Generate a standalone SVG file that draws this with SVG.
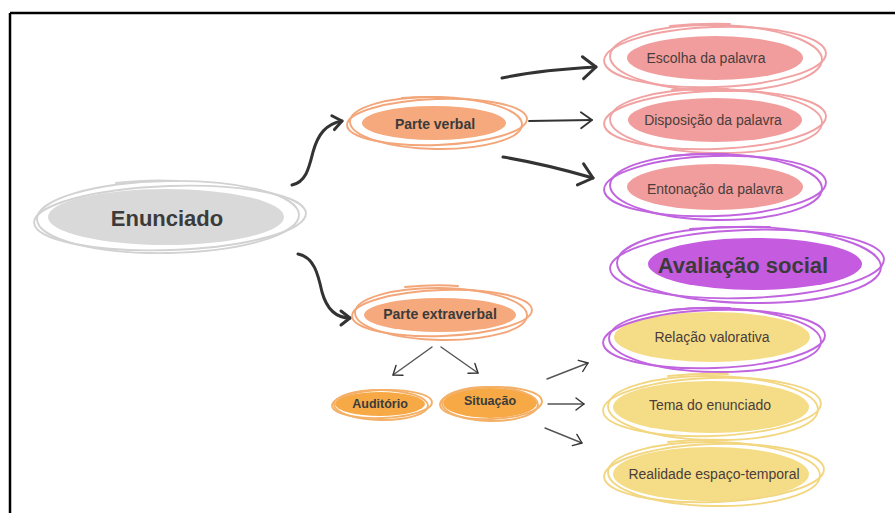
<svg xmlns="http://www.w3.org/2000/svg" width="895" height="513" viewBox="0 0 895 513">
<defs>
<style>
text{font-family:"Liberation Sans",Arial,sans-serif;text-anchor:middle}
.b{font-weight:bold;fill:#3b3b3b}
.r{font-size:14px;fill:#4a3d3b}
.lp{fill:none;stroke-width:1.9;stroke-linecap:round}
.gray{fill:#d9d9d9}.grayL{stroke:#d2d2d2}
.peach{fill:#f5a97c}.peachL{stroke:#f3a679}
.pink{fill:#f29d9d}.pinkL{stroke:#f1a2a2}
.purp{fill:#c55ce0}.purpL{stroke:#c164df}
.yel{fill:#f5dc86}.yelL{stroke:#f2d680}
.org{fill:#f6a945}.orgL{stroke:#f4b067}
.ah{fill:none;stroke:#333;stroke-linecap:round;stroke-linejoin:round}
.cb{fill:none;stroke:#333;stroke-width:3;stroke-linecap:round}
.cm{fill:none;stroke:#333;stroke-width:1.8;stroke-linecap:round}
.ct{fill:none;stroke:#555;stroke-width:1.4;stroke-linecap:round}
</style>
<marker id="aBig" markerUnits="userSpaceOnUse" markerWidth="30" markerHeight="30" refX="0" refY="0" orient="auto" overflow="visible"><path class="ah" stroke-width="3" d="M-13,-11 L0,0 L-13,11"/></marker>
<marker id="aMid" markerUnits="userSpaceOnUse" markerWidth="30" markerHeight="30" refX="0" refY="0" orient="auto" overflow="visible"><path class="ah" stroke-width="1.8" d="M-11,-8 L0,0 L-11,8"/></marker>
<marker id="aCur" markerUnits="userSpaceOnUse" markerWidth="30" markerHeight="30" refX="0" refY="0" orient="auto" overflow="visible"><path class="ah" stroke-width="3" d="M-9,-7 L0,0 L-9,7"/></marker>
<marker id="aSm" markerUnits="userSpaceOnUse" markerWidth="30" markerHeight="30" refX="0" refY="0" orient="auto" overflow="visible"><path class="ah" stroke="#555" stroke-width="1.4" d="M-8,-6 L0,0 L-8,6"/></marker>
</defs>
<rect width="895" height="513" fill="#ffffff"/>
<path d="M10,13 L895,13 M10,13 L10,513" fill="none" stroke="#000" stroke-width="2.5"/>

<g id="connectors">
<path class="cb" d="M292,185 C306,182 309,168 313,152 C318,134 326,124 342,121" marker-end="url(#aCur)"/>
<path class="cb" d="M298,254 C314,257 318,274 322,292 C327,310 336,318 350,318" marker-end="url(#aCur)"/>
<path class="cb" d="M502,78 Q540,70 596,67" marker-end="url(#aBig)"/>
<path class="cm" d="M529,121 L592,120" marker-end="url(#aMid)"/>
<path class="cb" d="M503,157 Q545,164 593,178" marker-end="url(#aBig)"/>
<path class="ct" d="M432,347 L393,375" marker-end="url(#aSm)"/>
<path class="ct" d="M441,347 L478,373" marker-end="url(#aSm)"/>
<path class="ct" d="M547,379 L588,363" marker-end="url(#aSm)"/>
<path class="ct" d="M548,404 L584,404" marker-end="url(#aSm)"/>
<path class="ct" d="M545,428 L582,443" marker-end="url(#aSm)"/>
</g>

<g id="n-enunciado">
<ellipse class="gray" cx="166" cy="217" rx="118" ry="28"/>
<ellipse class="lp grayL" cx="170" cy="218" rx="136" ry="32" transform="rotate(-2 170 218)"/>
<ellipse class="lp grayL" cx="168" cy="217" rx="131" ry="36" transform="rotate(-1 168 217)"/>
<path class="lp grayL" d="M116,183 Q150,179 178,181"/>
<text class="b" x="167" y="226" font-size="22">Enunciado</text>
</g>

<g id="n-parte-verbal">
<ellipse class="peach" cx="434" cy="123" rx="72" ry="17"/>
<ellipse class="lp peachL" cx="437" cy="122" rx="90" ry="23" transform="rotate(-2 437 122)"/>
<ellipse class="lp peachL" cx="436" cy="123" rx="86" ry="26" transform="rotate(1 436 123)"/>
<path class="lp peachL" d="M402,98 Q430,96 450,98"/>
<text class="b" x="435" y="129" font-size="14">Parte verbal</text>
</g>

<g id="n-escolha">
<ellipse class="pink" cx="715" cy="58" rx="88" ry="22"/>
<ellipse class="lp pinkL" cx="715" cy="57" rx="111" ry="30" transform="rotate(-2 715 57)"/>
<ellipse class="lp pinkL" cx="716" cy="58" rx="106" ry="33" transform="rotate(1 716 58)"/>
<path class="lp pinkL" d="M670,26 Q700,23 730,24"/>
<text class="r" x="706" y="63">Escolha da palavra</text>
</g>

<g id="n-disposicao">
<ellipse class="pink" cx="715" cy="120" rx="87" ry="22"/>
<ellipse class="lp pinkL" cx="715" cy="120" rx="111" ry="29" transform="rotate(-2 715 120)"/>
<ellipse class="lp pinkL" cx="716" cy="121" rx="106" ry="32" transform="rotate(1 716 121)"/>
<path class="lp pinkL" d="M672,90 Q700,88 728,89"/>
<text class="r" x="713" y="125">Disposição da palavra</text>
</g>

<g id="n-entonacao">
<ellipse class="pink" cx="715" cy="187" rx="88" ry="23"/>
<ellipse class="lp purpL" cx="715" cy="186" rx="111" ry="30" transform="rotate(-2 715 186)"/>
<ellipse class="lp purpL" cx="716" cy="187" rx="106" ry="33" transform="rotate(1 716 187)"/>
<path class="lp purpL" d="M670,156 Q700,153 728,154"/>
<text class="r" x="715" y="194">Entonação da palavra</text>
</g>

<g id="n-avaliacao">
<ellipse class="purp" cx="755" cy="264" rx="107" ry="26"/>
<ellipse class="lp purpL" cx="747" cy="264" rx="137" ry="34" transform="rotate(-2 747 264)"/>
<ellipse class="lp purpL" cx="749" cy="265" rx="132" ry="38" transform="rotate(1 749 265)"/>
<path class="lp purpL" d="M690,229 Q730,226 770,227"/>
<text class="b" x="743" y="273" font-size="22" fill="#3a2b40">Avaliação social</text>
</g>

<g id="n-relacao">
<ellipse class="yel" cx="712" cy="337" rx="98" ry="25"/>
<ellipse class="lp purpL" cx="714" cy="339" rx="111" ry="29" transform="rotate(-2 714 339)"/>
<ellipse class="lp purpL" cx="715" cy="340" rx="106" ry="32" transform="rotate(1 715 340)"/>
<path class="lp purpL" d="M670,310 Q700,307 730,308"/>
<text class="r" x="712" y="342">Relação valorativa</text>
</g>

<g id="n-tema">
<ellipse class="yel" cx="711" cy="407" rx="98" ry="26"/>
<ellipse class="lp yelL" cx="712" cy="407" rx="109" ry="29" transform="rotate(-2 712 407)"/>
<ellipse class="lp yelL" cx="713" cy="408" rx="105" ry="32" transform="rotate(1 713 408)"/>
<path class="lp yelL" d="M668,376 Q700,373 728,374"/>
<text class="r" x="710" y="410">Tema do enunciado</text>
</g>

<g id="n-realidade">
<ellipse class="yel" cx="711" cy="474" rx="98" ry="27"/>
<ellipse class="lp yelL" cx="714" cy="473" rx="110" ry="29" transform="rotate(-2 714 473)"/>
<ellipse class="lp yelL" cx="714" cy="474" rx="106" ry="32" transform="rotate(1 714 474)"/>
<path class="lp yelL" d="M668,442 Q700,439 728,440"/>
<text class="r" x="714" y="479">Realidade espaço-temporal</text>
</g>

<g id="n-parte-extraverbal">
<ellipse class="peach" cx="440" cy="315" rx="76" ry="17"/>
<ellipse class="lp peachL" cx="442" cy="313" rx="90" ry="23" transform="rotate(-2 442 313)"/>
<ellipse class="lp peachL" cx="441" cy="314" rx="86" ry="26" transform="rotate(1 441 314)"/>
<path class="lp peachL" d="M405,287 Q435,284 458,286"/>
<text class="b" x="440" y="319" font-size="14">Parte extraverbal</text>
</g>

<g id="n-auditorio">
<ellipse class="org" cx="380" cy="404" rx="45" ry="12"/>
<ellipse class="lp orgL" cx="382" cy="404" rx="50" ry="14" transform="rotate(-2 382 404)"/>
<ellipse class="lp orgL" cx="381" cy="405" rx="47" ry="15" transform="rotate(1 381 405)"/>
<text class="b" x="380" y="408" font-size="12.5">Auditório</text>
</g>

<g id="n-situacao">
<ellipse class="org" cx="490" cy="403" rx="47" ry="15"/>
<ellipse class="lp orgL" cx="491" cy="403" rx="51" ry="16" transform="rotate(-2 491 403)"/>
<ellipse class="lp orgL" cx="490" cy="404" rx="48" ry="17" transform="rotate(1 490 404)"/>
<text class="b" x="490" y="405" font-size="12.5">Situação</text>
</g>
</svg>
